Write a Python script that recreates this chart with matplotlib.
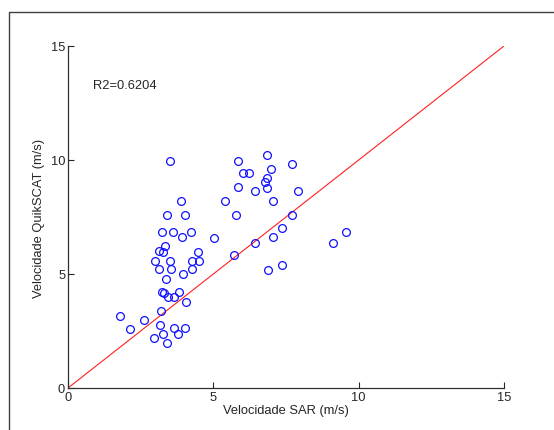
"""Scatter of SAR vs QuikSCAT wind speed with 1:1 line."""

import matplotlib
matplotlib.use("Agg")
import matplotlib.pyplot as plt
from matplotlib.lines import Line2D

# wind speeds (m/s)
sar = [
    3.51, 5.84, 6.01, 6.23, 5.84, 6.42, 3.90, 5.41, 3.42, 4.04,
    5.79, 3.24, 3.62, 4.24, 3.93, 5.03, 3.35, 3.12, 3.26, 4.47,
    6.44, 5.72, 2.99, 3.52, 4.25, 4.49, 3.12, 3.53, 4.25, 3.97,
    3.37, 3.24, 3.31, 3.81, 3.43, 3.66, 4.05, 3.19, 1.80, 2.63,
    2.14, 3.18, 3.64, 4.01, 3.26, 3.80, 2.97, 3.42, 6.86, 7.69,
    6.97, 6.86, 6.79, 6.83, 7.90, 7.06, 7.69, 7.37, 7.06, 9.57,
    9.12, 7.35, 6.87,
]
quikscat = [
    9.97, 9.97, 9.42, 9.42, 8.80, 8.63, 8.19, 8.19, 7.60, 7.60,
    7.60, 6.83, 6.83, 6.83, 6.61, 6.60, 6.21, 5.99, 5.98, 5.98,
    6.38, 5.82, 5.57, 5.57, 5.57, 5.57, 5.20, 5.20, 5.20, 4.98,
    4.78, 4.20, 4.18, 4.20, 3.98, 3.98, 3.79, 3.39, 3.17, 3.00,
    2.60, 2.78, 2.62, 2.62, 2.38, 2.38, 2.21, 1.99, 10.22, 9.81,
    9.59, 9.19, 9.02, 8.77, 8.63, 8.19, 7.60, 7.00, 6.61, 6.83,
    6.37, 5.41, 5.19,
]
line_xy = [0, 15]
ticks = [0, 5, 10, 15]
r2_text = "R2=0.6204"

plt.rcParams["font.family"] = ["Liberation Sans", "DejaVu Sans"]
text_color = "#262626"
fs = 9.3

fig = plt.figure(figsize=(5.54, 4.31), dpi=100)
ax = fig.add_axes([68 / 554, 1 - 389 / 431, 436 / 554, 342 / 431])

ax.plot(line_xy, line_xy, color="#ff2020", linewidth=0.8)
ax.plot(sar, quikscat, linestyle="none", marker="o", markersize=5.6,
        markerfacecolor="none", markeredgecolor="#1010ff",
        markeredgewidth=0.9, clip_on=False)

ax.set_xlim(0, 15)
ax.set_ylim(0, 15)
ax.set_xticks(ticks)
ax.set_yticks(ticks)
ax.tick_params(direction="in", length=4, width=0.8, labelsize=fs,
               colors=text_color, pad=2)
for side in ("top", "right"):
    ax.spines[side].set_visible(False)
for side in ("left", "bottom"):
    ax.spines[side].set_color("#303030")
    ax.spines[side].set_linewidth(0.9)

ax.set_xlabel("Velocidade SAR (m/s)", fontsize=fs, color=text_color, labelpad=1)
ax.set_ylabel("Velocidade QuikSCAT (m/s)", fontsize=fs, color=text_color, labelpad=4)
ax.text(0.85, 13.3, r2_text, fontsize=fs, color=text_color, va="center")

# outer frame of the original screenshot (runs off right and bottom)
fx = 8.5 / 554
fy = 1 - 12.5 / 431
fig.add_artist(Line2D([fx, fx, 1.0], [0.0, fy, fy], transform=fig.transFigure,
                      color="#404040", linewidth=1.0))

fig.savefig("out.png", dpi=100)
